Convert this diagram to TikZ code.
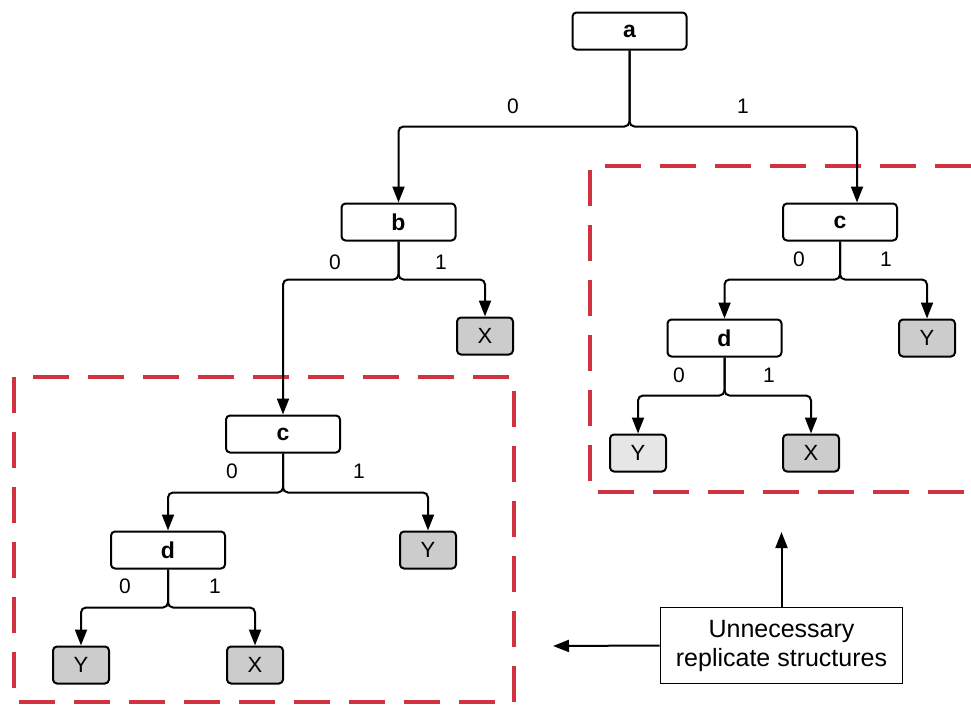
\documentclass[tikz,border=0pt]{standalone}
\usepackage{fontspec}
\setmainfont{Liberation Sans}
\usetikzlibrary{arrows.meta,positioning,calc}
\definecolor{dashred}{RGB}{208, 50, 64}
\definecolor{leafgray}{RGB}{204, 204, 204}
\definecolor{leaflight}{RGB}{230, 230, 230}

\begin{document}
\begin{tikzpicture}[
    x=1pt, y=-1pt,
    every node/.style={align=center, font=\fontsize{21}{25}\selectfont},
    inner/.style={rectangle, rounded corners=4pt, minimum width=114pt, minimum height=37pt, draw=black, fill=white, line width=2pt, font=\fontsize{23}{27}\selectfont\bfseries},
    leaf/.style={rectangle, rounded corners=4pt, minimum width=56pt, minimum height=37pt, draw=black, fill=leafgray, line width=2pt, font=\fontsize{22}{26}\selectfont},
    bit/.style={inner sep=0pt},
    group/.style={draw=dashred, line width=3.5pt, dash pattern=on 36pt off 19pt},
    note/.style={rectangle, draw=black, line width=1.8pt, minimum width=242pt, minimum height=76pt, font=\fontsize{25}{29}\selectfont},
    arrow/.style={line width=2pt, rounded corners=5pt, -{Triangle[length=16pt,width=12pt]}}
]
\useasboundingbox (0,0) rectangle (971,704);

% Replicated sub-trees
\draw[group] (14,377) rectangle (514,702);
\draw[group] (971,166) -- (590,166) -- (590,492) -- (971,492);

% Tree nodes
\node[inner] (a) at (629.5,31) {a};
\node[inner] (b) at (398.5,222) {b};
\node[inner] (c2) at (840,222) {c};
\node[leaf] (bx) at (485,336) {X};
\node[inner] (c1) at (283,434) {c};
\node[leaf] (c1y) at (428,550) {Y};
\node[inner] (d1) at (168,550) {d};
\node[leaf] (d1y) at (81,665) {Y};
\node[leaf] (d1x) at (255,665) {X};
\node[leaf] (c2y) at (927,338) {Y};
\node[inner] (d2) at (724.5,338) {d};
\node[leaf, fill=leaflight] (d2y) at (638,453) {Y};
\node[leaf] (d2x) at (811,453) {X};

% Branch labels
\node[bit] (a0) at (513,106) {0};
\node[bit] (a1) at (743,106) {1};
\node[bit] (b0) at (335,262) {0};
\node[bit] (b1) at (441,262) {1};
\node[bit] (c10) at (232,471) {0};
\node[bit] (c11) at (359,471) {1};
\node[bit] (d10) at (125,586) {0};
\node[bit] (d11) at (215,586) {1};
\node[bit] (c20) at (799,259) {0};
\node[bit] (c21) at (886,259) {1};
\node[bit] (d20) at (679,375) {0};
\node[bit] (d21) at (769,375) {1};

% Branches
\draw[arrow] (a.south) -- ++(0,76) -| (b.north);
\draw[arrow] (a.south) -- ++(0,76) -| ([xshift=17pt]c2.north);
\draw[arrow] (b.south) -- ++(0,38) -| (c1.north);
\draw[arrow] (b.south) -- ++(0,38) -| (bx.north);
\draw[arrow] (c1.south) -- ++(0,39) -| (d1.north);
\draw[arrow] (c1.south) -- ++(0,39) -| (c1y.north);
\draw[arrow] (d1.south) -- ++(0,38) -| (d1y.north);
\draw[arrow] (d1.south) -- ++(0,38) -| (d1x.north);
\draw[arrow] (c2.south) -- ++(0,38) -| (d2.north);
\draw[arrow] (c2.south) -- ++(0,38) -| (c2y.north);
\draw[arrow] (d2.south) -- ++(0,38) -| (d2y.north);
\draw[arrow] (d2.south) -- ++(0,38) -| (d2x.north);

% Callout
\node[note] (note) at (781.5,645.5) {Unnecessary\\replicate structures};
\coordinate (up) at (783,532);
\coordinate (left) at (553,646);
\draw[arrow] (note.north) -- (note.north |- up);
\draw[arrow] (note.west) -- (left);

\end{tikzpicture}
\end{document}
